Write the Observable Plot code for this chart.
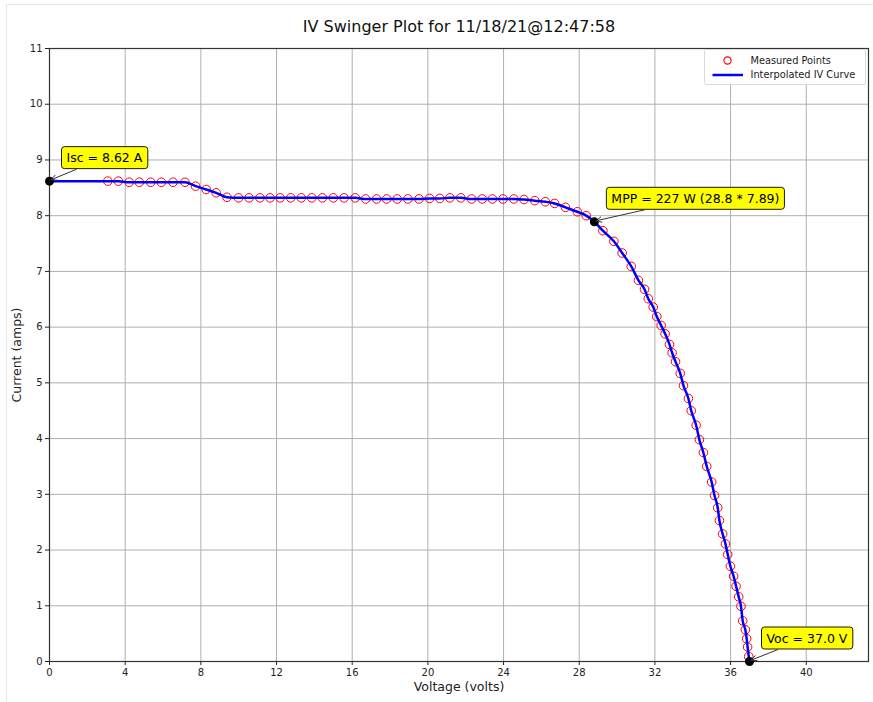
<!DOCTYPE html>
<html>
<head>
<meta charset="utf-8">
<script src="https://cdn.jsdelivr.net/npm/d3@7"></script>
<script src="https://cdn.jsdelivr.net/npm/@observablehq/plot@0.6"></script>
<style>
  html, body { margin: 0; padding: 0; background: white; }
  #chart { position: relative; width: 873px; height: 702px; }
</style>
</head>
<body>
<div id="chart"></div>
<script>
// ---------- data ----------
const title = "IV Swinger Plot for 11/18/21@12:47:58";
const xLabel = "Voltage (volts)";
const yLabel = "Current (amps)";
const xTicks = [0, 4, 8, 12, 16, 20, 24, 28, 32, 36, 40];
const yTicks = [0, 1, 2, 3, 4, 5, 6, 7, 8, 9, 10, 11];
const xMax = 43.29;
const yMax = 11;

const measuredV = [3.08, 3.64, 4.21, 4.75, 5.35, 5.91, 6.53, 7.16, 7.72, 8.28, 8.81, 9.38, 9.99, 10.55, 11.12, 11.66,
  12.19, 12.75, 13.31, 13.86, 14.42, 15.00, 15.57, 16.16, 16.71, 17.29, 17.82, 18.38, 18.94, 19.53, 20.09, 20.63,
  21.16, 21.74, 22.31, 22.87, 23.41, 23.97, 24.54, 25.08, 25.65, 26.21, 26.70, 27.27, 27.90, 28.37,
  29.25, 29.83, 30.27, 30.75, 31.13, 31.45, 31.65, 31.91, 32.10, 32.33, 32.54, 32.77, 32.91, 33.09, 33.34, 33.51,
  33.77, 33.92, 34.18, 34.35, 34.56, 34.74, 35.00, 35.15, 35.32, 35.41, 35.58, 35.73, 35.85, 35.99, 36.16, 36.29,
  36.43, 36.55, 36.64, 36.78, 36.85, 36.90, 36.96];
const measuredI = [8.62, 8.62, 8.60, 8.60, 8.60, 8.60, 8.60, 8.60, 8.53, 8.47, 8.41, 8.33, 8.32, 8.32, 8.32, 8.32,
  8.32, 8.32, 8.32, 8.32, 8.32, 8.32, 8.32, 8.32, 8.30, 8.30, 8.30, 8.30, 8.30, 8.30, 8.31, 8.31,
  8.32, 8.32, 8.30, 8.30, 8.30, 8.30, 8.30, 8.29, 8.27, 8.25, 8.22, 8.15, 8.07, 8.00,
  7.73, 7.54, 7.33, 7.09, 6.84, 6.68, 6.51, 6.36, 6.19, 6.03, 5.88, 5.69, 5.54, 5.38, 5.17, 4.95,
  4.72, 4.50, 4.24, 3.98, 3.75, 3.50, 3.22, 2.98, 2.76, 2.53, 2.29, 2.11, 1.92, 1.71, 1.53, 1.35,
  1.16, 0.99, 0.73, 0.57, 0.41, 0.26, 0.09];

const iscV = 0, iscI = 8.62;
const mppV = 28.8, mppI = 7.89, mppW = 227;
const vocV = 37.0, vocI = 0;

const annotLabels = [
  `Isc = ${iscI.toFixed(2)} A`,
  `MPP = ${mppW} W (${mppV.toFixed(1)} * ${mppI.toFixed(2)})`,
  `Voc = ${vocV.toFixed(1)} V`
];
const legendLabels = ["Measured Points", "Interpolated IV Curve"];

// ---------- tables ----------
const measured = measuredV.map((v, k) => ({v, i: measuredI[k]}));
const special = [
  {v: iscV, i: iscI, label: annotLabels[0]},
  {v: mppV, i: mppI, label: annotLabels[1]},
  {v: vocV, i: vocI, label: annotLabels[2]}
];
const curve = [...measured, ...special.map(d => ({v: d.v, i: d.i}))].sort((a, b) => a.v - b.v);

const FONT = "DejaVu Sans, Liberation Sans, sans-serif";

const chart = Plot.plot({
  width: 873,
  height: 702,
  marginLeft: 49,
  marginRight: 5,
  marginTop: 48,
  marginBottom: 41,
  style: {fontFamily: FONT, fontSize: "10px", color: "#222", background: "white", overflow: "visible"},
  x: {domain: [0, xMax], ticks: xTicks, tickFormat: d => String(d), tickSize: 4, tickPadding: 3, label: null},
  y: {domain: [0, yMax], ticks: yTicks, tickFormat: d => String(d), tickSize: 4, tickPadding: 3, label: null},
  marks: [
    Plot.ruleX(xTicks, {stroke: "#b0b0b0", strokeWidth: 1}),
    Plot.ruleY(yTicks, {stroke: "#b0b0b0", strokeWidth: 1}),
    Plot.frame({stroke: "#333", strokeWidth: 1.2}),
    Plot.dot(measured, {x: "v", y: "i", r: 4.3, stroke: "#ff0000", strokeWidth: 1, fill: "none"}),
    Plot.line(curve, {x: "v", y: "i", stroke: "#0000ff", strokeWidth: 2.5, curve: "monotone-x"}),
    Plot.dot(special, {x: "v", y: "i", r: 4.5, fill: "black", stroke: "none"}),
    Plot.text(special, {x: "v", y: "i", text: "label", dx: 17, dy: -23, textAnchor: "start", fontSize: 12.5, fill: "black"}),
    Plot.text([title], {frameAnchor: "top", dy: -28, fontSize: 16, fill: "#111"}),
    Plot.text([xLabel], {frameAnchor: "bottom", dy: 29, fontSize: 12.5, fill: "#222"}),
    Plot.text([yLabel], {frameAnchor: "left", dx: -33, rotate: -90, textAnchor: "middle", fontSize: 12.5, fill: "#222"})
  ]
});

document.getElementById("chart").appendChild(chart);

// ---------- post-processing: annotation boxes, arrows, legend ----------
const NS = "http://www.w3.org/2000/svg";
const svg = chart;
const sx = chart.scale("x"), sy = chart.scale("y");
const svgRect = svg.getBoundingClientRect();

// faint figure border
const border = document.createElementNS(NS, "rect");
border.setAttribute("x", 6.5); border.setAttribute("y", 4.5);
border.setAttribute("width", 873); border.setAttribute("height", 702);
border.setAttribute("fill", "none"); border.setAttribute("stroke", "#e8e8e8");
svg.insertBefore(border, svg.firstChild);

const arrowLayer = document.createElementNS(NS, "g");
svg.appendChild(arrowLayer);

svg.querySelectorAll("text").forEach(t => {
  const idx = annotLabels.indexOf(t.textContent);
  if (idx < 0) return;
  const bb = t.getBBox();
  const padX = 5, padY = 3.5;
  const rect = document.createElementNS(NS, "rect");
  rect.setAttribute("x", bb.x - padX);
  rect.setAttribute("y", bb.y - padY);
  rect.setAttribute("width", bb.width + 2 * padX);
  rect.setAttribute("height", bb.height + 2 * padY);
  rect.setAttribute("rx", 3);
  rect.setAttribute("fill", "#ffff00");
  rect.setAttribute("stroke", "#000");
  rect.setAttribute("stroke-width", 0.9);
  if (t.getAttribute("transform")) rect.setAttribute("transform", t.getAttribute("transform"));
  t.parentNode.insertBefore(rect, t);

  const r = rect.getBoundingClientRect();
  const bx = r.left - svgRect.left, by = r.top - svgRect.top;
  const cx = bx + r.width / 2, cy = by + r.height / 2;
  const d = special[idx];
  const px = sx.apply(d.v), py = sy.apply(d.i);
  const ddx = px - cx, ddy = py - cy;
  const s = Math.min((r.width / 2) / Math.abs(ddx || 1e-9), (r.height / 2) / Math.abs(ddy || 1e-9));
  const len = Math.hypot(ddx, ddy);
  const ux = ddx / len, uy = ddy / len;
  const x0 = cx + ddx * s + ux * 1.5, y0 = cy + ddy * s + uy * 1.5;
  const x1 = px - ux * 2, y1 = py - uy * 2;
  const line = document.createElementNS(NS, "path");
  const hl = 6, hw = 2.8;
  const hx = x1 - ux * hl, hy = y1 - uy * hl;
  const nx = -uy, ny = ux;
  line.setAttribute("d",
    `M${x0},${y0}L${x1},${y1}M${hx + nx * hw},${hy + ny * hw}L${x1},${y1}L${hx - nx * hw},${hy - ny * hw}`);
  line.setAttribute("fill", "none");
  line.setAttribute("stroke", "#333");
  line.setAttribute("stroke-width", 1);
  arrowLayer.appendChild(line);
});

// legend
const lg = d3.select(svg).append("g")
  .attr("font-family", FONT).attr("font-size", 9.8).attr("fill", "#222").attr("text-anchor", "start");
lg.append("rect").attr("x", 704.5).attr("y", 49.5).attr("width", 161).attr("height", 35).attr("rx", 2)
  .attr("fill", "white").attr("fill-opacity", 0.9).attr("stroke", "#d8d8d8");
lg.append("circle").attr("cx", 727.5).attr("cy", 60.5).attr("r", 3.6)
  .attr("fill", "none").attr("stroke", "#ff0000").attr("stroke-width", 1.2);
lg.append("line").attr("x1", 712.5).attr("x2", 743).attr("y1", 75).attr("y2", 75)
  .attr("stroke", "#0000ff").attr("stroke-width", 2.5);
lg.append("text").attr("x", 750.5).attr("y", 60.5).attr("dy", "0.35em").attr("text-anchor", "start").text(legendLabels[0]);
lg.append("text").attr("x", 750.5).attr("y", 75).attr("dy", "0.35em").attr("text-anchor", "start").text(legendLabels[1]);
</script>
</body>
</html>
